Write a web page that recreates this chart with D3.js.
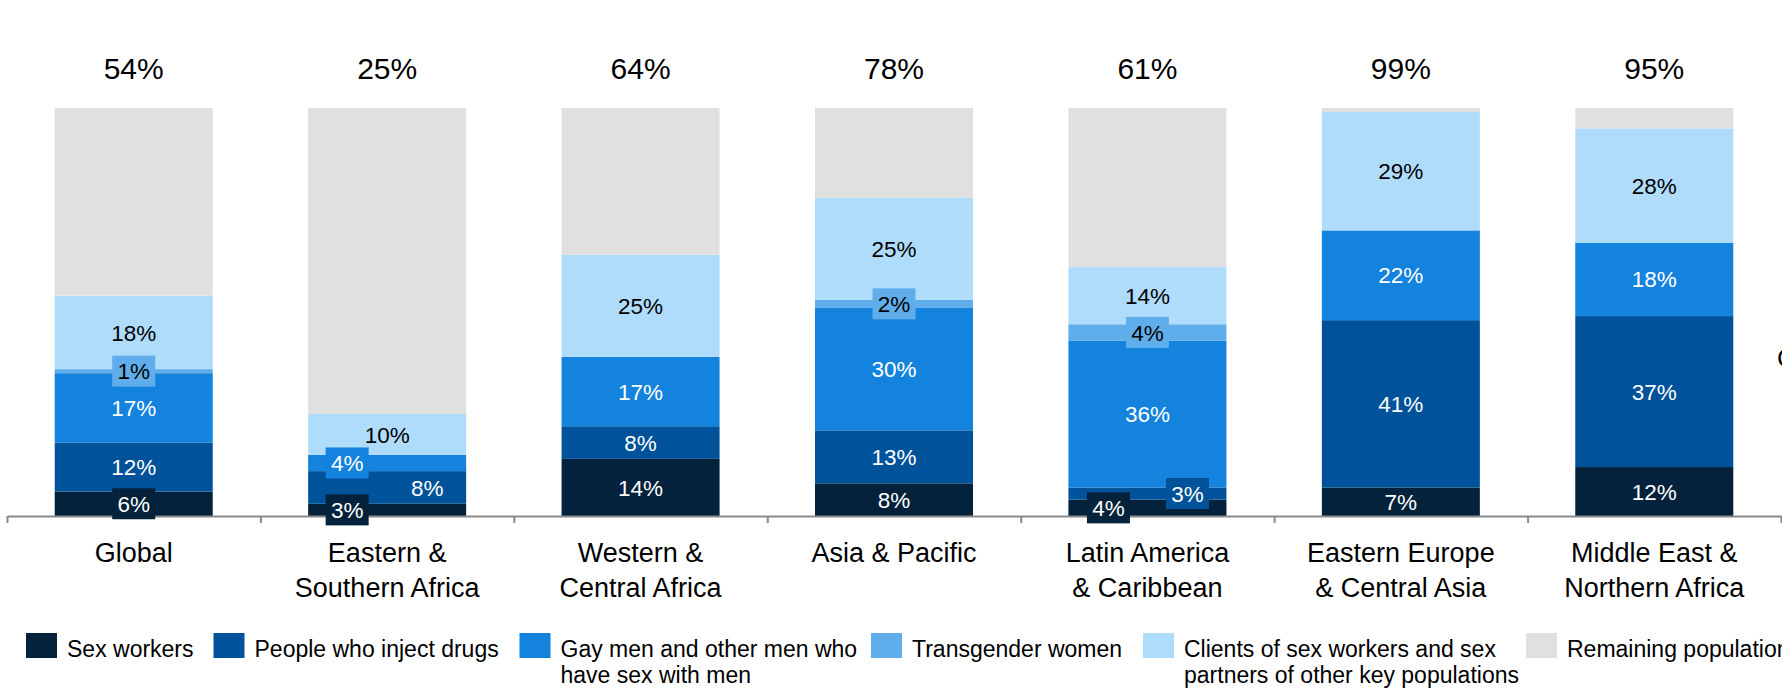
<!DOCTYPE html>
<html>
<head>
<meta charset="utf-8">
<script src="https://cdn.jsdelivr.net/npm/d3@7"></script>
<style>
  body { margin: 0; background: #fff; overflow: hidden; }
  svg text { font-family: "Liberation Sans", Arial, sans-serif; }
</style>
</head>
<body>
<div id="chart"></div>
<script>
// regions on the x axis (label split in lines)
var regions = ["Global", "Eastern & Southern Africa", "Western & Central Africa", "Asia & Pacific",
               "Latin America & Caribbean", "Eastern Europe & Central Asia", "Middle East & Northern Africa"];
var regionLines = [["Global"], ["Eastern &", "Southern Africa"], ["Western &", "Central Africa"], ["Asia & Pacific"],
                   ["Latin America", "& Caribbean"], ["Eastern Europe", "& Central Asia"], ["Middle East &", "Northern Africa"]];

// share of new infections (%) per population
var sexWorkers       = [6, 3, 14, 8, 4, 7, 12];
var injectDrugs      = [12, 8, 8, 13, 3, 41, 37];
var gayMen           = [17, 4, 17, 30, 36, 22, 18];
var transgenderWomen = [1, 0, 0, 2, 4, 0, 0];
var clients          = [18, 10, 25, 25, 14, 29, 28];
var remaining        = [46, 75, 36, 22, 39, 1, 5];
var totals           = ["54%", "25%", "64%", "78%", "61%", "99%", "95%"];

var seriesKeys = ["sw", "pwid", "msm", "tg", "cl", "rem"];
var seriesValues = [sexWorkers, injectDrugs, gayMen, transgenderWomen, clients, remaining];
var legendLines = [["Sex workers"], ["People who inject drugs"], ["Gay men and other men who", "have sex with men"],
                   ["Transgender women"], ["Clients of sex workers and sex", "partners of other key populations"],
                   ["Remaining population"]];

var colors = {sw: "#04223b", pwid: "#00529a", msm: "#1483dd", tg: "#5faeeb", cl: "#b0dcfc", rem: "#e0e0e0"};
var textColors = {sw: "#fff", pwid: "#fff", msm: "#fff", tg: "#000", cl: "#000"};

// labels moved sideways so they don't collide
var labelShift = {
  "Eastern & Southern Africa": {sw: -40, pwid: 40, msm: -40},
  "Latin America & Caribbean": {sw: -39, pwid: 40}
};
var legendX = [26, 213.5, 519.5, 871, 1143, 1526];

var W = 1782, H = 688;
var svg = d3.select("#chart").append("svg").attr("width", W).attr("height", H);

// build rows for the stack
var rows = regions.map(function(r, i) {
  var o = {region: r};
  seriesKeys.forEach(function(k, j) { o[k] = seriesValues[j][i]; });
  return o;
});
var stacked = d3.stack().keys(seriesKeys)(rows);

var x = d3.scaleBand().domain(regions).range([7, 1781]).paddingInner(0.3765).paddingOuter(0.1883);
var y = d3.scaleLinear().domain([0, 100]).range([516, 108]);

// bars
svg.append("g").selectAll("g")
  .data(stacked)
  .enter().append("g")
    .attr("fill", function(d) { return colors[d.key]; })
  .selectAll("rect")
  .data(function(d) { return d; })
  .enter().append("rect")
    .attr("x", function(d) { return x(d.data.region); })
    .attr("y", function(d) { return y(d[1]); })
    .attr("height", function(d) { return y(d[0]) - y(d[1]); })
    .attr("width", x.bandwidth());

// axis with ticks between the categories
var xEdge = d3.scaleLinear().domain([0, regions.length]).range([7, 1781]);
var axis = svg.append("g")
  .attr("transform", "translate(0,516)")
  .call(d3.axisBottom(xEdge).tickValues(d3.range(regions.length + 1)).tickFormat("").tickSize(7).tickSizeOuter(0));
axis.selectAll("path, line").attr("stroke", "#8a8a8a").attr("stroke-width", 2);

// category labels
svg.append("g").selectAll("text")
  .data(regions)
  .enter().append("text")
    .attr("x", function(d) { return x(d) + x.bandwidth() / 2; })
    .attr("y", 562)
    .attr("text-anchor", "middle")
    .style("font-size", "27px")
    .attr("fill", "#000")
    .each(function(d, i) {
      var t = d3.select(this);
      regionLines[i].forEach(function(line, k) {
        t.append("tspan").attr("x", x(d) + x.bandwidth() / 2).attr("dy", k === 0 ? 0 : 35).text(line);
      });
    });

// totals on top
svg.append("g").selectAll("text")
  .data(regions)
  .enter().append("text")
    .attr("x", function(d) { return x(d) + x.bandwidth() / 2; })
    .attr("y", 79)
    .attr("text-anchor", "middle")
    .style("font-size", "30px")
    .attr("fill", "#000")
    .text(function(d, i) { return totals[i]; });

// segment labels
var labelData = [];
stacked.forEach(function(s) {
  if (s.key === "rem") return;
  s.forEach(function(d) {
    var v = d[1] - d[0];
    if (v <= 0) return;
    var shift = (labelShift[d.data.region] || {})[s.key] || 0;
    labelData.push({key: s.key, v: v, cx: x(d.data.region) + x.bandwidth() / 2 + shift, cy: (y(d[0]) + y(d[1])) / 2});
  });
});

var lab = svg.append("g").selectAll("g")
  .data(labelData)
  .enter().append("g")
    .attr("transform", function(d) { return "translate(" + d.cx + "," + d.cy + ")"; });

lab.filter(function(d) { return d.v <= 6; })
  .append("rect")
    .attr("x", -21.5)
    .attr("y", -15.5)
    .attr("width", 43)
    .attr("height", 31)
    .attr("fill", function(d) { return colors[d.key]; });

lab.append("text")
  .attr("text-anchor", "middle")
  .attr("dy", "0.36em")
  .style("font-size", "22.5px")
  .attr("fill", function(d) { return textColors[d.key]; })
  .text(function(d) { return d.v + "%"; });

// legend
var leg = svg.append("g").selectAll("g")
  .data(seriesKeys)
  .enter().append("g")
    .attr("transform", function(d, i) { return "translate(" + legendX[i] + ",0)"; });

leg.append("rect")
  .attr("y", 633)
  .attr("width", 31)
  .attr("height", 25)
  .attr("fill", function(d) { return colors[d]; });

leg.append("text")
  .attr("x", 41)
  .attr("y", 657)
  .style("font-size", "23px")
  .attr("fill", "#000")
  .each(function(d, i) {
    var t = d3.select(this);
    legendLines[i].forEach(function(line, k) {
      t.append("tspan").attr("x", 41).attr("dy", k === 0 ? 0 : 26).text(line);
    });
  });

// cut-off text at the right edge
svg.append("text")
  .attr("x", 1777)
  .attr("y", 367)
  .style("font-size", "26px")
  .attr("fill", "#000")
  .text("C");
</script>
</body>
</html>
